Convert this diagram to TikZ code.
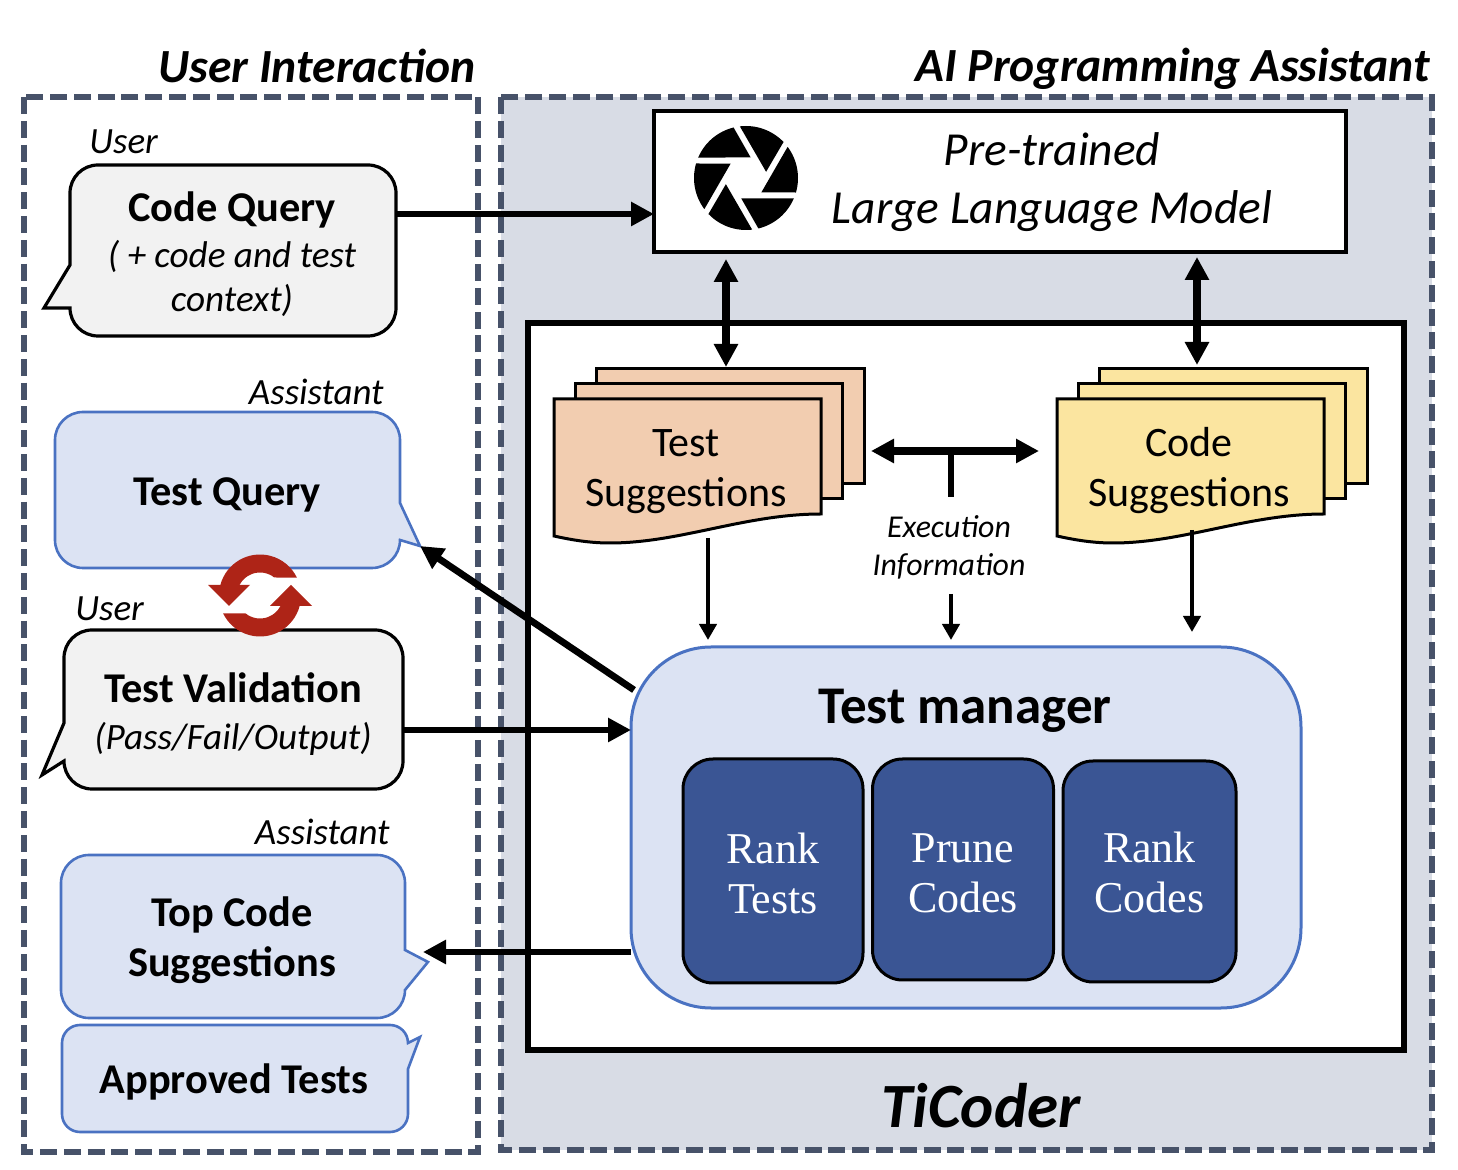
\documentclass[tikz,border=0pt]{standalone}
\usepackage{fontspec}
\setmainfont{Carlito}
\newfontfamily\serifbox{Liberation Serif}
\usepackage{xcolor}
\usetikzlibrary{calc,arrows.meta}

\definecolor{dashslate}{HTML}{475269}
\definecolor{panelgray}{HTML}{D8DCE5}
\definecolor{bubblegray}{HTML}{F2F2F2}
\definecolor{bubbleblue}{HTML}{DCE3F3}
\definecolor{edgeblue}{HTML}{4A72C2}
\definecolor{darkblue}{HTML}{3A5594}
\definecolor{testfill}{HTML}{F2CDB0}
\definecolor{codefill}{HTML}{FBE5A0}
\definecolor{cyclered}{HTML}{AE2417}

\tikzset{
    panel/.style={draw=dashslate, line width=3pt, dash pattern=on 8.5pt off 3.4pt},
    sqbox/.style={draw=black, inner sep=0pt, outer sep=0pt},
    hotspot/.style={inner sep=0pt, outer sep=0pt},
    userbubble/.style={draw=black, fill=bubblegray, line width=1.6pt},
    asstbubble/.style={draw=edgeblue, fill=bubbleblue, line width=1.3pt},
    sheet/.style={draw=black, line width=1.5pt},
    rankbox/.style={draw=black, fill=darkblue, line width=1.5pt, rounded corners=15pt, inner sep=0pt, outer sep=0pt, text=white, align=center, font=\serifbox\fontsize{22}{25}\selectfont},
    heading/.style={font=\fontsize{23.8}{28}\selectfont\bfseries\itshape, inner sep=0pt},
    who/.style={font=\fontsize{18.5}{22}\selectfont\itshape, inner sep=0pt},
    bubbletext/.style={font=\fontsize{21.2}{25}\selectfont\bfseries, align=center, inner sep=0pt},
    subtext/.style={font=\fontsize{18.6}{22}\selectfont\itshape, align=center, inner sep=0pt},
    doctext/.style={font=\fontsize{21}{25}\selectfont, align=center, inner sep=0pt},
    bigarrow/.style={line width=3.4pt, -{Triangle[length=11.5pt,width=11.5pt]}},
    bothways/.style={line width=3.8pt, {Triangle[length=11.5pt,width=11.5pt]}-{Triangle[length=11.5pt,width=11.5pt]}},
    thinarrow/.style={line width=2.2pt, -{Triangle[length=8pt,width=8.5pt]}}
}

\begin{document}
\begin{tikzpicture}[x=0.5pt, y=-0.5pt]
    \useasboundingbox (0,0) rectangle (1458,1170);

    % Panels
    \draw[panel] (24,97) rectangle (478,1152);
    \draw[panel, fill=panelgray] (501,97) rectangle (1432,1150);
    \node[heading, anchor=east] (userhead) at (476,66) {User Interaction};
    \node[heading, anchor=east] (aihead) at (1430,69) {AI Programming Assistant};
    \node[font=\fontsize{31.5}{36}\selectfont\bfseries\itshape, inner sep=0pt] (ticodername) at (981,1106) {TiCoder};

    % Model box with the aperture
    \node[sqbox, fill=white, line width=2pt, minimum width=346pt, minimum height=70.5pt] (llm) at (1000,181.5) {};
    \node[font=\fontsize{23.7}{29}\selectfont\itshape, align=center, inner sep=0pt] (llmtext) at (1052,182) {Pre-trained\\Large Language Model};
    \begin{scope}[shift={(746,178)}]
        \foreach \a in {0,60,...,300} {
            \fill[black, rotate=\a] (4.7,-20.5) -- (-12.4,-50.5) arc (-103.8:-156.8:52) -- cycle;
        }
    \end{scope}

    % TiCoder frame
    \node[sqbox, fill=white, line width=3pt, minimum width=438pt, minimum height=363.5pt] (ticoder) at (966,686.5) {};

    % Suggestion stacks
    \foreach \dx/\col in {0/testfill,503/codefill} {
        \begin{scope}[xshift=\dx*0.5pt]
            \draw[sheet, fill=\col] (596,369) rectangle (864,484);
            \draw[sheet, fill=\col] (575,384) rectangle (842,499);
            \draw[sheet, fill=\col] (554,399) -- (821,399) -- (821,514) .. controls (745,514) and (680,543) .. (610,543) .. controls (590,543) and (572,540) .. (554,536) -- cycle;
        \end{scope}
    }
    \node[doctext] (testdoc) at (686,471.5) {Test\\Suggestions};
    \node[doctext] (codedoc) at (1189,471) {Code\\Suggestions};

    % Test manager
    \node[sqbox, draw=edgeblue, fill=bubbleblue, line width=1.5pt, rounded corners=40pt, minimum width=335pt, minimum height=180.5pt] (manager) at (966,827.5) {};
    \node[font=\fontsize{26.5}{31}\selectfont\bfseries, inner sep=0pt] (managertext) at (965,711) {Test manager};
    \node[rankbox, minimum width=90pt, minimum height=112pt] (ranktests) at (773,871) {\rule{0pt}{17.5pt}Rank\\Tests};
    \node[rankbox, minimum width=90.5pt, minimum height=110.5pt] (prunecodes) at (963,869.5) {\rule{0pt}{18.5pt}Prune\\Codes};
    \node[rankbox, minimum width=86.5pt, minimum height=110.5pt] (rankcodes) at (1149.5,871.5) {\rule{0pt}{16.5pt}Rank\\Codes};

    % Bubbles on the left
    \draw[userbubble] (70,265) -- (70,193) arc (180:270:28) -- (368,165) arc (-90:0:28) -- (396,308) arc (0:90:28) -- (98,336) arc (90:180:28) -- (44,308) -- cycle;
    \node[hotspot, minimum width=163pt, minimum height=85.5pt] (codequery) at (233,250.5) {};
    \node[bubbletext] (codequerytext) at (232,210) {Code Query};
    \node[subtext] (codequerysub) at (232,278) {( + code and test\\context)};
    \node[who, anchor=west] (user1) at (89,142) {User};

    \draw[asstbubble] (400,503) -- (400,440) arc (0:-90:28) -- (83,412) arc (-90:-180:28) -- (55,540) arc (180:90:28) -- (372,568) arc (90:0:28) -- (420,546) -- cycle;
    \node[hotspot, minimum width=172.5pt, minimum height=78pt] (testquery) at (227.5,490) {};
    \node[bubbletext] (testquerytext) at (227,495) {Test Query};
    \node[who, anchor=east] (asst1) at (384,392) {Assistant};

    \draw[userbubble] (64,723) -- (64,658) arc (180:270:28) -- (375,630) arc (-90:0:28) -- (403,761) arc (0:90:28) -- (92,789) arc (90:180:28) -- (42,775) -- cycle;
    \node[hotspot, minimum width=169.5pt, minimum height=79pt] (validation) at (233.5,710) {};
    \node[bubbletext] (validationtext) at (233,688) {Test Validation};
    \node[subtext] (validationsub) at (233,739) {(Pass/Fail/Output)};
    \node[who, anchor=west] (user2) at (75,609) {User};

    \draw[asstbubble] (405,950) -- (405,883) arc (0:-90:28) -- (89,855) arc (-90:-180:28) -- (61,990) arc (180:90:28) -- (377,1018) arc (90:0:28) -- (428,962) -- cycle;
    \node[hotspot, minimum width=172pt, minimum height=81.5pt] (topcode) at (233,936.5) {};
    \node[bubbletext] (topcodetext) at (232,940) {Top Code\\Suggestions};
    \node[who, anchor=east] (asst2) at (390,832) {Assistant};

    \draw[asstbubble] (408,1069) -- (408,1114) arc (0:90:18) -- (80,1132) arc (90:180:18) -- (62,1043) arc (180:270:18) -- (390,1025) arc (-90:0:18) -- (420,1037) -- cycle;
    \node[bubbletext] (approved) at (234,1082) {Approved Tests};

    % Cycle sign
    \begin{scope}[shift={(260,595.5)}]
        \foreach \a in {0,180} {
            \fill[cyclered, rotate=\a] (-165:41) arc (-165:-26:41) -- (-51.5:23) arc (-51.5:-153:23) -- cycle;
            \fill[cyclered, rotate=\a] (-52,-10.5) -- (-10,-10.5) -- (-31,10.5) -- cycle;
        }
    \end{scope}

    % Named ends of the connectors
    \coordinate (llmout1) at (726,259);
    \coordinate (testin) at (726,367);
    \coordinate (llmout2) at (1197,257);
    \coordinate (codein) at (1197,365);
    \coordinate (execleft) at (871,451);
    \coordinate (execright) at (1039,451);
    \coordinate (execstem) at (951,497);
    \coordinate (exectop) at (951,594);
    \coordinate (testdown) at (708,538);
    \coordinate (codedown) at (1192,530);
    \coordinate (querytail) at (396,214);
    \coordinate (validout) at (404,730);
    \coordinate (querytip) at (420,546);
    \coordinate (managercorner) at (634,690);
    \coordinate (topcodetip) at (423,952);
    \coordinate (managerleft) at (631,952);

    % Connectors
    \draw[bigarrow] (querytail) -- (querytail -| llm.west);
    \draw[bothways] (llmout1) -- (testin);
    \draw[bothways] (llmout2) -- (codein);
    \draw[bothways] (execleft) -- (execright);
    \draw[line width=3pt] (execstem) -- (execstem |- execleft);
    \draw[thinarrow] (testdown) -- (testdown |- 0,640);
    \draw[thinarrow] (exectop) -- (exectop |- 0,640);
    \draw[thinarrow] (codedown) -- (codedown |- 0,632);
    \draw[bigarrow] (managercorner) -- (querytip);
    \draw[bigarrow] (validout) -- (validout -| manager.west);
    \draw[bigarrow] (managerleft) -- (topcodetip);

    \node[font=\fontsize{15.9}{19}\selectfont\itshape, align=center, inner sep=0pt] (execinfo) at (949,547) {Execution\\Information};
\end{tikzpicture}
\end{document}
